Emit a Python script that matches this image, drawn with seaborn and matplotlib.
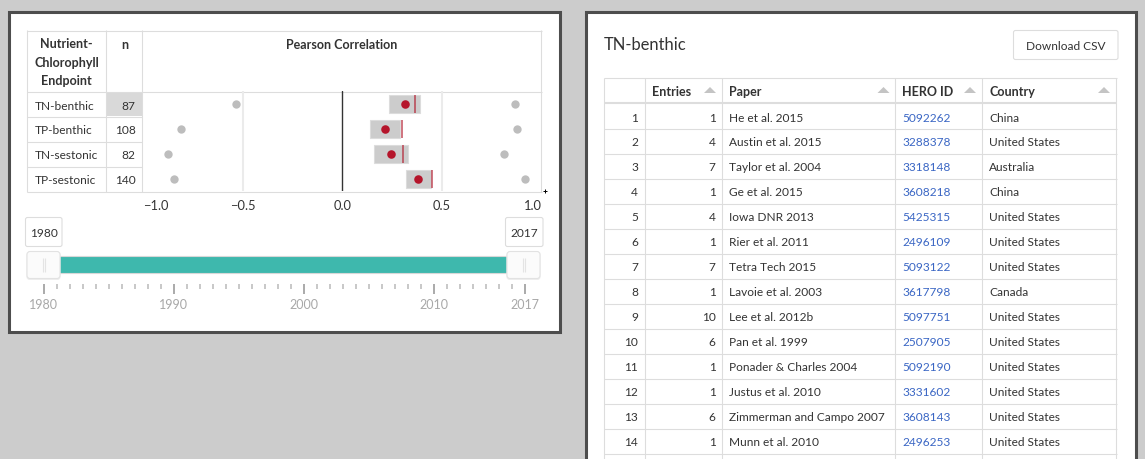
import numpy as np
import pandas as pd
import matplotlib
matplotlib.use("Agg")
import matplotlib.pyplot as plt
from matplotlib.patches import Rectangle, FancyBboxPatch, Polygon
import seaborn as sns

# chart data
endpoints = ["TN-benthic", "TP-benthic", "TN-sestonic", "TP-sestonic"]
n_values = [87, 108, 82, 140]
r_low = [-0.533, -0.807, -0.872, -0.845]
r_high = [0.867, 0.876, 0.809, 0.917]
r_mid = [0.313, 0.214, 0.244, 0.381]
box_low = [0.236, 0.139, 0.161, 0.321]
box_high = [0.391, 0.289, 0.328, 0.443]
r_mark = [0.363, 0.298, 0.304, 0.450]
corr_ticks = [-1.0, -0.5, 0.0, 0.5, 1.0]

year_start = 1980
year_end = 2017
year_major = [1980, 1990, 2000, 2010, 2017]

# table data
row_ids = list(range(1, 15))
entries = [1, 4, 7, 1, 4, 1, 7, 1, 10, 6, 1, 1, 6, 1]
papers = ["He et al. 2015", "Austin et al. 2015", "Taylor et al. 2004", "Ge et al. 2015",
          "Iowa DNR 2013", "Rier et al. 2011", "Tetra Tech 2015", "Lavoie et al. 2003",
          "Lee et al. 2012b", "Pan et al. 1999", "Ponader & Charles 2004", "Justus et al. 2010",
          "Zimmerman and Campo 2007", "Munn et al. 2010"]
hero_ids = [5092262, 3288378, 3318148, 3608218, 5425315, 2496109, 5093122,
            3617798, 5097751, 2507905, 5092190, 3331602, 3608143, 2496253]
countries = ["China", "United States", "Australia", "China", "United States", "United States",
             "United States", "Canada", "United States", "United States", "United States",
             "United States", "United States", "United States"]

sns.set_theme(style="white")
plt.rcParams['font.family'] = ['Lato', 'DejaVu Sans']

W, H = 1145, 460
TXT = "#333333"
LINE = "#dddddd"
BOLD = 9.0
BODY = 8.6
fig = plt.figure(figsize=(W / 100, H / 100), dpi=100, facecolor="#cccccc")

# page layer in pixel coordinates
bg = fig.add_axes([0, 0, 1, 1])
bg.set_xlim(0, W)
bg.set_ylim(H, 0)
bg.axis("off")


def px_axes(x0, y0, x1, y1):
    ax = fig.add_axes([x0 / W, 1 - y1 / H, (x1 - x0) / W, (y1 - y0) / H])
    ax.patch.set_alpha(0)
    return ax


def hline(y, x0, x1, color=LINE, lw=0.8):
    bg.plot([x0, x1], [y, y], color=color, lw=lw, solid_capstyle="butt")


def vline(x, y0, y1, color=LINE, lw=0.8):
    bg.plot([x, x], [y0, y1], color=color, lw=lw, solid_capstyle="butt")


def rbox(x0, y0, x1, y1, fc="white", ec=LINE, r=2, lw=0.8):
    bg.add_patch(FancyBboxPatch((x0, y0), x1 - x0, y1 - y0, boxstyle=f"round,pad=0,rounding_size={r}",
                                fc=fc, ec=ec, lw=lw))


# panels
bg.add_patch(Rectangle((9, 13), 550.5, 319.5, fc="white", ec="#4d4d4d", lw=2.2))
bg.add_patch(Rectangle((586, 13), 549.5, 460, fc="white", ec="#4d4d4d", lw=2.2))

# left table grid
for y in [31.5, 92.5, 192.5]:
    hline(y, 27, 542)
for x in [27, 106, 142, 541]:
    vline(x, 31, 193)
for y in [117.5, 142.5, 167.5]:
    hline(y, 27, 142)
bg.add_patch(Rectangle((107, 93), 35, 24, fc="#d9d9d9", ec="none"))

for y, t in zip([44.5, 63, 81], ["Nutrient-", "Chlorophyll", "Endpoint"]):
    bg.text(66.5, y, t, ha="center", va="center", fontsize=BOLD, fontweight="bold", color=TXT)
bg.text(124.5, 45, "n", ha="center", va="center", fontsize=BOLD, fontweight="bold", color=TXT)
bg.text(342, 45, "Pearson Correlation", ha="center", va="center", fontsize=BOLD, fontweight="bold", color=TXT)
for i, (name, n) in enumerate(zip(endpoints, n_values)):
    bg.text(34.5, 106 + 25 * i, name, ha="left", va="center", fontsize=BODY, color=TXT)
    bg.text(135.5, 106 + 25 * i, str(n), ha="right", va="center", fontsize=BODY, color=TXT)

# correlation chart
df = pd.DataFrame({"endpoint": endpoints, "low": r_low, "high": r_high, "mid": r_mid,
                   "box_low": box_low, "box_high": box_high, "mark": r_mark})
ax = px_axes(142.8, 92.3, 541.6, 192.3)
ax.barh(df["endpoint"], df["box_high"] - df["box_low"], left=df["box_low"], height=0.72,
        color="#cccccc", edgecolor="#dcdcdc", linewidth=0.8, zorder=2)
ax.vlines(df["mark"], np.arange(4) - 0.36, np.arange(4) + 0.36, color="#b2182b", alpha=0.7, lw=1.2, zorder=3)
sns.scatterplot(data=df, x="low", y="endpoint", color="#bdbdbd", s=36, linewidth=0, ax=ax, zorder=3)
sns.scatterplot(data=df, x="high", y="endpoint", color="#bdbdbd", s=36, linewidth=0, ax=ax, zorder=3)
sns.scatterplot(data=df, x="mid", y="endpoint", color="#b5152b", s=38, linewidth=0, ax=ax, zorder=4)
ax.axvline(-0.5, color="#ebebeb", lw=1.5, zorder=1)
ax.axvline(0.5, color="#ebebeb", lw=1.5, zorder=1)
ax.axvline(0, color="#333333", lw=1.0, zorder=1)
ax.set_xlim(-1, 1)
ax.set_ylim(3.48, -0.52)
ax.set_xlabel("")
ax.set_ylabel("")
ax.set_yticks([])
ax.set_xticks(corr_ticks)
ax.set_xticklabels([f"{t:.1f}".replace("-", "\u2212") for t in corr_ticks], fontsize=9.3, color=TXT)
ax.tick_params(axis="x", length=0, pad=5.5)
ax.get_xticklabels()[0].set_ha("left")
ax.get_xticklabels()[-1].set_ha("right")
for s in ax.spines.values():
    s.set_visible(False)
bg.plot([544.5], [191.5], marker="+", ms=2.5, color="black", mew=0.7)

# year slider
rbox(25.5, 218.5, 62, 247.5)
rbox(505.5, 218.5, 543, 247.5)
bg.text(44, 234, str(year_start), ha="center", va="center", fontsize=BODY, color=TXT)
bg.text(524, 234, str(year_end), ha="center", va="center", fontsize=BODY, color=TXT)
bg.add_patch(Rectangle((45, 257), 480, 17, fc="#3eb8ad", ec="#d8d8d8", lw=0.8))
for x0 in [27, 507]:
    rbox(x0 - 0.5, 253, x0 + 33.5, 281, fc="#eeeeee", ec="none", r=3)
    rbox(x0, 252.5, x0 + 33, 279.5, fc="#fbfbfb", ec="#e2e2e2", r=3)
    vline(x0 + 15.5, 259, 273, color="#e4e4e4", lw=0.8)
    vline(x0 + 18, 259, 273, color="#e4e4e4", lw=0.8)

sl = px_axes(43.5, 284, 524.5, 284.5)
sl.set_xlim(year_start, year_end)
sl.set_ylim(0, 1)
sl.set_yticks([])
sl.set_xticks(year_major)
sl.set_xticklabels([str(y) for y in year_major], fontsize=9.0, color="#a8a8a8")
sl.set_xticks(np.arange(year_start, year_end + 1), minor=True)
sl.tick_params(axis="x", which="major", bottom=True, length=7.2, width=1.4, color="#aaaaaa", pad=3.5, direction="out")
sl.tick_params(axis="x", which="minor", bottom=True, length=3.6, width=1.4, color="#c8c8c8", direction="out")
for s in sl.spines.values():
    s.set_visible(False)

# right panel
bg.text(604, 45.5, "TN-benthic", ha="left", va="center", fontsize=11.9, color=TXT)
rbox(1013.5, 31.5, 1118, 60.5)
bg.text(1066, 47, "Download CSV", ha="center", va="center", fontsize=BODY, color=TXT)

col_x = [604, 645, 722, 895, 982, 1116]
for x in col_x:
    vline(x, 78.5, H)
hline(78.5, 604, 1117)
hline(104, 604, 1117, lw=1.5)
for k in range(1, 15):
    hline(104.5 + 25 * k, 604, 1117)

for x, t in zip([652, 729, 902, 989], ["Entries", "Paper", "HERO ID", "Country"]):
    bg.text(x, 91.5, t, ha="left", va="center", fontsize=BOLD, fontweight="bold", color=TXT)
for x in [704, 877.5, 964, 1098]:
    bg.add_patch(Polygon([(x, 94), (x + 12, 94), (x + 6, 88)], fc="#c4c4c4", ec="none"))

for i in range(len(row_ids)):
    y = 118 + 25 * i
    bg.text(638, y, str(row_ids[i]), ha="right", va="center", fontsize=BODY, color=TXT)
    bg.text(715.5, y, str(entries[i]), ha="right", va="center", fontsize=BODY, color=TXT)
    bg.text(729, y, papers[i], ha="left", va="center", fontsize=BODY, color=TXT)
    bg.text(902, y, str(hero_ids[i]), ha="left", va="center", fontsize=BODY, color="#3a66c4")
    bg.text(989, y, countries[i], ha="left", va="center", fontsize=BODY, color=TXT)

fig.savefig("out.png", dpi=100, facecolor=fig.get_facecolor())
